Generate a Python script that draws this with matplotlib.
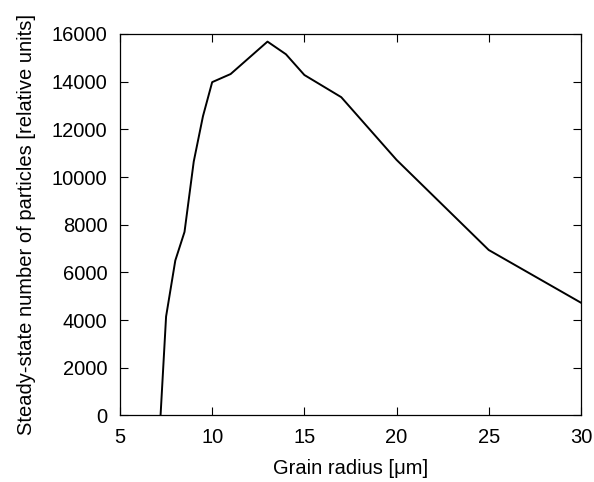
import matplotlib
matplotlib.use("Agg")
import matplotlib.pyplot as plt

plt.rcParams["font.family"] = ["Liberation Sans", "DejaVu Sans"]

# grain radius [um] vs steady-state particle number
radius = [7.2, 7.5, 8.0, 8.5, 9.0, 9.5, 10.0, 11.0, 13.0, 14.0, 15.0, 17.0, 20.0, 25.0, 30.0]
particles = [0, 4150, 6500, 7700, 10650, 12550, 13980, 14320, 15680, 15150, 14280, 13350, 10720, 6940, 4730]

x_ticks = [5, 10, 15, 20, 25, 30]
y_ticks = list(range(0, 16001, 2000))

fig = plt.figure(figsize=(5.94, 4.82), dpi=100)
ax = fig.add_axes([0.202, 0.138, 0.776, 0.7915])
ax.plot(radius, particles, color="black", lw=1.4)

ax.set_xlim(5, 30)
ax.set_ylim(0, 16000)
ax.set_xticks(x_ticks)
ax.set_yticks(y_ticks)
ax.tick_params(direction="in", length=6, width=0.8, top=True, right=True,
               labelsize=14.5, pad=9, colors="black")
for s in ax.spines.values():
    s.set_linewidth(0.9)

ax.set_xlabel("Grain radius [μm]", fontsize=14.5, labelpad=9)
ax.set_ylabel("Steady-state number of particles [relative units]", fontsize=14.5, labelpad=11)

fig.savefig("out.png", dpi=100)
